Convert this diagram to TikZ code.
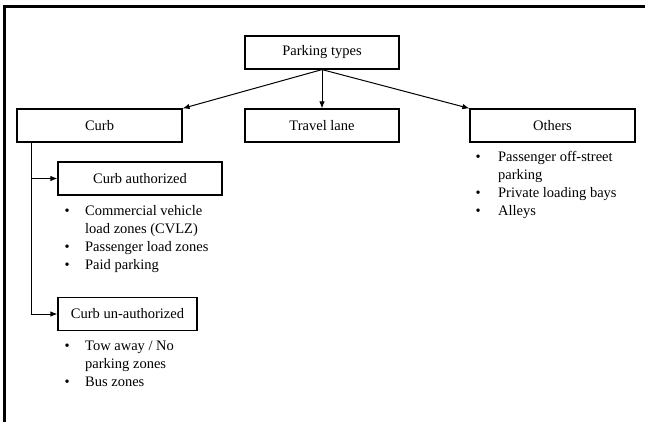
\documentclass[tikz,border=0pt]{standalone}
\usepackage{fontspec}
\setmainfont{Liberation Serif}
\usetikzlibrary{arrows.meta}

\tikzset{
  box/.style={draw,line width=1.2pt,minimum height=33pt,inner sep=0pt},
  arr/.style={draw,line width=1pt,-{Latex[length=7pt,width=5.5pt]}},
  items/.style={anchor=base west,inner sep=0pt}
}

\begin{document}
\begin{tikzpicture}[x=1pt,y=-1pt,font=\fontsize{14.5}{18}\selectfont]

      \useasboundingbox (0,0) rectangle (645,422);
      \draw[line width=2.5pt] (4.5,422) |- (645,6.5);

      \begin{scope}[every node/.style={box}]
        \node[minimum width=154pt] (types)  at (322,52.5)   {Parking types};
        \node[minimum width=165pt] (curb)   at (99.5,125.5) {Curb};
        \node[minimum width=154pt] (travel) at (322,125.5)  {Travel lane};
        \node[minimum width=165pt] (others) at (552.5,125.5) {Others};
        \node[minimum width=164pt] (auth)   at (140,178.5)  {Curb authorized};
        \node[minimum width=139pt] (unauth) at (127.5,314)  {Curb un-authorized};
      \end{scope}

      \begin{scope}[every node/.style={items}]
        \node (authlist) at (64.5,215.5) {\begin{tabular}[t]{@{}l@{\hspace{15.4pt}}l@{}}
          \textbullet & Commercial vehicle\\
                      & load zones (CVLZ)\\
          \textbullet & Passenger load zones\\
          \textbullet & Paid parking
        \end{tabular}};
        \node (unauthlist) at (64.5,350.3) {\begin{tabular}[t]{@{}l@{\hspace{15.4pt}}l@{}}
          \textbullet & Tow away / No\\
                      & parking zones\\
          \textbullet & Bus zones
        \end{tabular}};
        \node (otherslist) at (475.5,161.3) {\begin{tabular}[t]{@{}l@{\hspace{17.4pt}}l@{}}
          \textbullet & Passenger off-street\\
                      & parking\\
          \textbullet & Private loading bays\\
          \textbullet & Alleys
        \end{tabular}};
      \end{scope}

      \coordinate (trunk) at ([xshift=15pt]curb.south west);

      \path[arr] (types.south) -- (curb.north east);
      \path[arr] (types.south) -- (travel.north);
      \path[arr] (types.south) -- (others.north west);
      \path[arr] (trunk) |- (auth.west);
      \path[arr] (trunk) |- (unauth.west);

\end{tikzpicture}
\end{document}
